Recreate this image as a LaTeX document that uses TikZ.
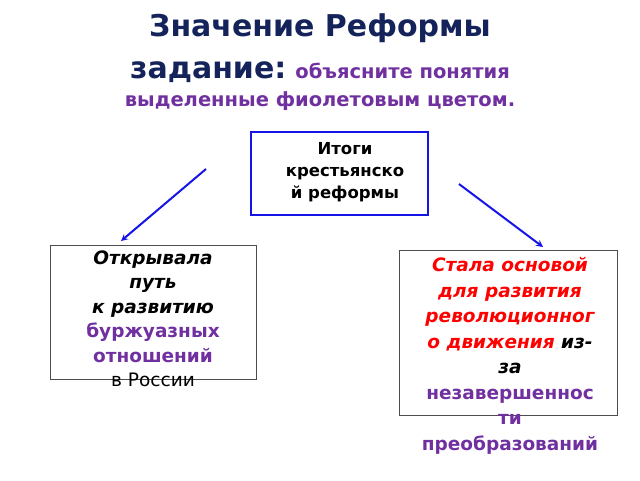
\documentclass[tikz,border=0pt]{standalone}
\usepackage{fontspec}
\setmainfont{DejaVu Sans}
\usetikzlibrary{positioning}
\definecolor{navy}{RGB}{20,35,90}
\definecolor{violet}{RGB}{112,48,160}
\definecolor{arrowblue}{RGB}{20,20,230}
\tikzset{
  resbox/.style={draw=black!70,line width=0.8pt},
  restext/.style={align=center,font=\fontsize{18.5}{24.5}\selectfont\bfseries},
  resarrow/.style={arrowblue,line width=2pt,-stealth}
}
\begin{document}
\begin{tikzpicture}[x=1pt,y=-1pt]
    \useasboundingbox (0,0) rectangle (640,480);
    % title
    \node[navy,font=\fontsize{30}{32}\selectfont\bfseries] (title) at (320,28) {Значение Реформы};
    \node[anchor=base,font=\fontsize{19.5}{24}\selectfont\bfseries] (task) at (320,78)
      {\textcolor{navy}{\fontsize{30}{32}\selectfont задание:} \textcolor{violet}{объясните понятия}};
    \node[violet,font=\fontsize{19.5}{24}\selectfont\bfseries] (task2) at (320,101) {выделенные фиолетовым цветом.};

    % boxes
    \draw[draw=arrowblue,line width=2.5pt] (251,132) rectangle (428,215);
    \node[restext,font=\fontsize{16.5}{22}\selectfont\bfseries] (itogi) at (345,172)
      {Итоги\\крестьянско\\й реформы};
    \draw[resbox] (50,245) rectangle (256,379);
    \node[restext,anchor=north] (left) at (153,247)
      {\itshape Открывала\\\itshape путь\\\itshape к развитию\\
       \textcolor{violet}{буржуазных}\\\textcolor{violet}{отношений}\\\mdseries в России};
    \draw[resbox] (399,250) rectangle (617,415);
    \node[restext,anchor=north,font=\fontsize{18.5}{25.5}\selectfont\bfseries] (right) at (510,254)
      {\color{red}\itshape Стала основой\\\color{red}\itshape для развития\\
       \color{red}\itshape революционног\\\textcolor{red}{\itshape о движения} \itshape из-\\
       \itshape за\\\textcolor{violet}{незавершеннос}\\\textcolor{violet}{ти}\\\textcolor{violet}{преобразований}};

    % arrows
    \coordinate (a1) at (206,169);
    \coordinate (b1) at (121,241);
    \coordinate (a2) at (459,184);
    \coordinate (b2) at (543,247);
    \draw[resarrow] (a1) -- (b1);
    \draw[resarrow] (a2) -- (b2);
  \end{tikzpicture}
\end{document}
